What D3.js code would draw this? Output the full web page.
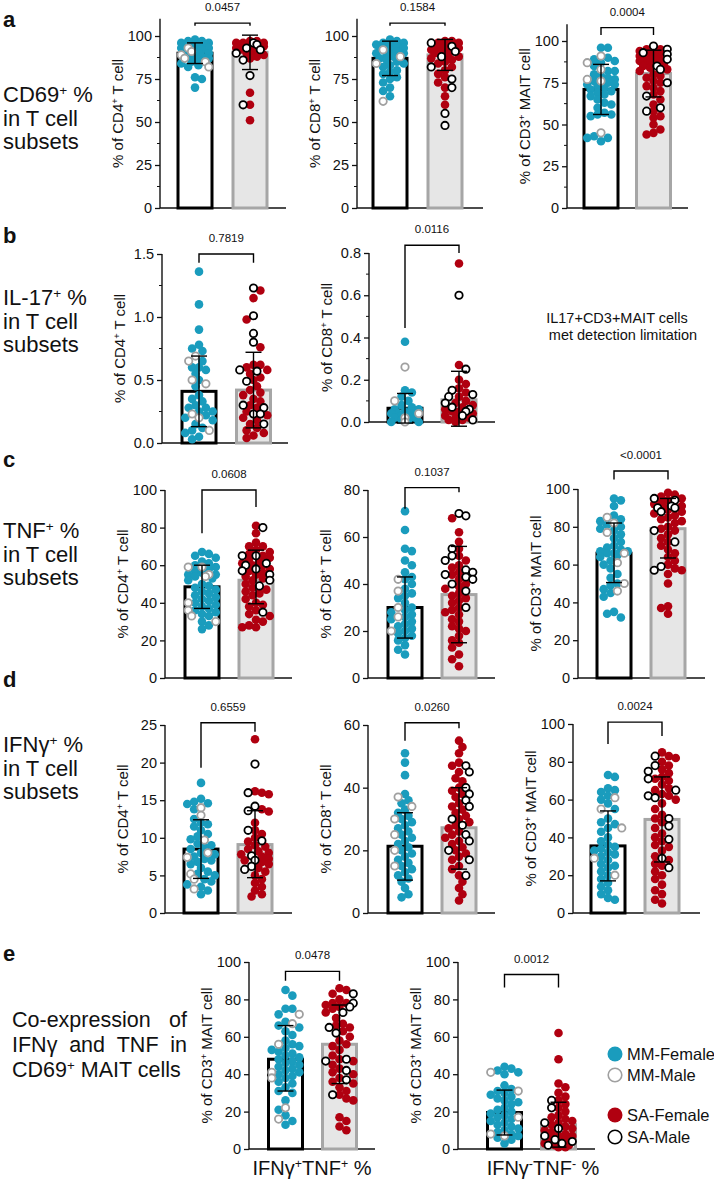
<!DOCTYPE html>
<html><head><meta charset="utf-8">
<script src="https://cdn.jsdelivr.net/npm/d3@7"></script>
<style>
body{margin:0;background:#fff}
text{font-family:Arial,"Liberation Sans",sans-serif;fill:#111}
</style>
</head><body>
<svg id="fig" width="714" height="1180"></svg>
<script>
// ---- values (MM = female/male, SA = female/male) ----
var a1MMF=[98,97,97,96,96,95,95,95,94,94,93,93,92,92,91,90,90,89,88,88,87,86,85,84,83,82,76,75,70];
var a1MMM=[93,91,89,87,85,82];
var a1SAF=[97,97,96,96,96,95,95,95,95,94,94,94,93,93,92,92,91,90,89,88,87,67,60,51];
var a1SAM=[96,95,93,92,90,86,77,60];
var a1Bar=[90,90.5], a1Err=[[84,96],[80.5,100.5]];

var a2MMF=[98,97,96,96,95,95,94,94,93,93,92,91,90,90,89,88,87,86,85,84,83,82,80,79,78,76,75,73,70,68,65];
var a2MMM=[92,88,84,62];
var a2SAF=[97,97,96,96,95,95,95,94,94,93,93,92,92,91,90,89,88,87,86,85,84,82,80,78,76,73,70,65,60];
var a2SAM=[96,94,91,88,82,75,70,55,48];
var a2Bar=[87,89], a2Err=[[77,97],[80,98]];

var a3MMF=[96,96,90,89,88,87,85,82,82,80,79,78,77,76,75,74,74,73,72,71,70,69,68,67,65,63,62,60,57,56,56,55,43,42,42,40];
var a3MMM=[91,87,83,77,76,45];
var a3SAF=[95,95,94,93,93,92,92,91,90,90,89,88,88,87,86,85,84,83,82,80,79,78,76,75,73,72,70,68,65,62,58,55,54,50,47,45,44];
var a3SAM=[97,95,93,92,89,85,83,75,67,60,58];
var a3Bar=[71,80.5], a3Err=[[56,86],[66.5,94.5]];

var b1MMF=[1.36,1.10,0.90,0.78,0.75,0.73,0.65,0.60,0.60,0.58,0.55,0.50,0.45,0.38,0.35,0.33,0.30,0.28,0.28,0.25,0.25,0.22,0.20,0.18,0.15,0.12,0.10,0.08,0.05,0.03];
var b1MMM=[0.69,0.65,0.50,0.47,0.23,0.20,0.10];
var b1SAF=[1.21,1.15,0.98,0.76,0.62,0.62,0.60,0.58,0.55,0.52,0.50,0.45,0.42,0.40,0.38,0.35,0.33,0.30,0.28,0.25,0.22,0.20,0.18,0.15,0.12,0.10,0.08,0.06,0.04];
var b1SAM=[1.23,1.01,0.87,0.80,0.58,0.57,0.49,0.30,0.28,0.23,0.23,0.15];
var b1Bar=[0.41,0.42], b1Err=[[0.13,0.69],[0.12,0.72]];

var b2MMF=[0.38,0.15,0.14,0.12,0.10,0.08,0.07,0.06,0.06,0.05,0.05,0.04,0.04,0.03,0.03,0.02,0.02,0.01,0.01,0.0,0.0];
var b2MMM=[0.26,0.10,0.04,0.02,0.0];
var b2SAF=[0.75,0.27,0.20,0.18,0.16,0.14,0.12,0.10,0.09,0.08,0.07,0.06,0.05,0.05,0.04,0.03,0.02,0.02,0.01,0.01,0.0];
var b2SAM=[0.60,0.25,0.15,0.13,0.12,0.09,0.07,0.06,0.05,0.03,0.01];
var b2Bar=[0.065,0.105], b2Err=[[-0.005,0.135],[-0.02,0.24]];

var c1MMF=[67,66,65,64,62,61,60,59,58,57,56,55,55,54,53,52,50,49,48,47,46,45,44,43,42,41,40,39,38,37,36,35,34,33,30,28,26];
var c1MMM=[59,59,55,54,40,36,33,30];
var c1SAF=[81,77,72,70,70,68,67,66,65,64,63,62,61,60,60,58,57,56,55,54,53,52,50,48,47,46,45,44,42,40,39,38,36,34,33,31,30,28,27,27];
var c1SAM=[80,65,65,61,60,58,57,55,52,49,35];
var c1Bar=[48.5,52], c1Err=[[37,60],[39.5,68]];

var c2MMF=[71,63,55,54,50,48,45,43,42,40,38,36,35,34,32,30,29,28,27,26,25,24,23,22,21,20,19,18,17,16,14,12,10];
var c2MMM=[42,37,30,26,20];
var c2SAF=[68,62,58,55,52,50,48,47,45,44,42,40,39,38,36,35,34,33,32,30,29,28,27,25,24,22,21,20,18,16,15,13,10,8,5];
var c2SAM=[70,69,55,52,50,46,45,44,43,42,40,37,30];
var c2Bar=[30,35.5], c2Err=[[17,43],[15,56]];

var c3MMF=[95,94,91,86,84,83,81,80,79,78,76,74,72,70,69,68,67,67,66,66,65,64,62,60,58,55,53,50,49,47,45,43,35,34,32];
var c3MMM=[85,82,77,66,61,50,46];
var c3SAF=[98,97,96,95,94,93,92,91,90,89,88,87,86,85,84,83,82,80,79,78,76,74,72,70,68,66,64,62,60,58,57,55,50,38,37,34];
var c3SAM=[95,94,91,90,90,88,78,72,59,57];
var c3Bar=[66,79], c3Err=[[50.5,82],[63.5,95]];

var d1MMF=[17.3,15.2,14.8,14.6,14.5,13.8,12.5,12.0,11.8,11.5,11.0,10.5,10.2,9.8,9.2,9.0,8.8,8.5,8.0,7.8,7.5,7.2,7.0,6.8,6.5,6.0,5.5,5.2,5.0,4.5,4.2,3.8,3.5,3.0,2.5];
var d1MMM=[14,13,9.7,8.0,7.4,5.2,4.5,3.2];
var d1SAF=[23.1,16.2,16.0,15.8,13.8,13.5,12.0,11.0,10.5,10.0,9.5,9.0,8.8,8.5,8.2,8.0,7.8,7.5,7.2,7.0,6.8,6.5,6.0,5.5,5.0,4.5,4.0,3.5,3.0,2.5,2.2];
var d1SAM=[19.8,16.0,14.2,13.6,11.0,9.6,7.6,7.0,6.2,5.8];
var d1Bar=[8.5,9.1], d1Err=[[4.6,12.4],[4.7,13.6]];

var d2MMF=[51,48,44,38,36,35,33,32,31,30,29,28,27,26,25,24,23,22,21,20,19,18,17,16,15,14,13,12,11,10,8,6,5];
var d2MMM=[37,34,30,25,20,15];
var d2SAF=[55,53,51,48,47,45,43,42,40,39,38,37,35,34,33,32,31,30,29,28,27,26,25,24,23,22,21,20,19,18,17,15,14,12,10,8,6,4];
var d2SAM=[47,45,40,38,36,34,30,28,25,23,20,17,12];
var d2Bar=[21.3,27.2], d2Err=[[10.5,32],[14,40]];

var d3MMF=[73,72,66,65,64,62,60,58,55,50,48,47,45,43,40,38,36,35,34,33,32,31,30,28,26,25,24,22,20,18,16,14,12,10,8,7];
var d3MMM=[61,55,45,29,20];
var d3SAF=[85,83,82,80,78,76,74,72,71,70,68,66,65,63,62,60,58,55,52,50,48,45,42,40,38,36,35,33,30,28,26,25,22,20,18,15,12,10,7,5];
var d3SAM=[83,78,75,71,65,62,61,50,46,39,29,24];
var d3Bar=[35.5,49.5], d3Err=[[17,54],[27,72]];

var e1MMF=[85,82,75,75,72,68,66,65,63,61,58,56,55,54,53,52,51,50,49,48,47,46,45,44,43,42,41,40,39,38,36,35,33,31,30,26,21,18,15,13];
var e1MMM=[72,67,56,41,38,22,16];
var e1SAF=[86,85,83,80,78,78,77,76,75,73,70,67,66,65,63,60,58,56,55,53,50,48,47,45,43,41,40,38,36,35,33,31,29,27,26,17,15,12,10];
var e1SAM=[83,78,76,73,65,62,48,47,42,37,29];
var e1Bar=[48,56], e1Err=[[31,66],[35,77]];

var e2MMF=[44,43,42,41,40,34,32,31,30,29,28,27,26,25,24,22,21,20,19,18,17,16,15,14,13,12,11,10,9,8,7,6,5,3];
var e2MMM=[41,31,17,8,7];
var e2SAF=[62,48,35,33,30,28,26,24,22,20,18,17,16,15,14,13,12,11,10,9,8,7,7,6,6,5,5,4,4,3,3,2,2,1,1];
var e2SAM=[26,22,14,11,7,5,4,3,2];
var e2Bar=[19.5,13], e2Err=[[7.5,31.5],[1,25]];

var pLabels=["0.0457","0.1584","0.0004","0.7819","0.0116","0.0608","0.1037","<0.0001","0.6559","0.0260","0.0024","0.0478","0.0012"];
var cellTypes=["CD4","CD8","CD3"];
var legendLabels=["MM-Female","MM-Male","SA-Female","SA-Male"];

var teal="#1a9cbd", red="#b00010", grey="#a0a0a0";

// ---- layout of each panel ----
var panels=[
 {mmF:a1MMF,mmM:a1MMM,saF:a1SAF,saM:a1SAM,bar:a1Bar,err:a1Err,ax:160,px:[208,36],cal:100,top:110,ticks:[0,25,50,75,100],minor:12.5,cx:[195,250],xEnd:286,br:[107.5,106,106],cell:0},
 {mmF:a2MMF,mmM:a2MMM,saF:a2SAF,saM:a2SAM,bar:a2Bar,err:a2Err,ax:357,px:[208,36],cal:100,top:110,ticks:[0,25,50,75,100],minor:12.5,cx:[390,445],xEnd:483,br:[107.5,106,106],cell:1},
 {mmF:a3MMF,mmM:a3MMM,saF:a3SAF,saM:a3SAM,bar:a3Bar,err:a3Err,ax:567,px:[208,41],cal:100,top:110,ticks:[0,25,50,75,100],minor:12.5,cx:[601,653.5],xEnd:688,br:[108,103.6,103.6],cell:2},
 {mmF:b1MMF,mmM:b1MMM,saF:b1SAF,saM:b1SAM,bar:b1Bar,err:b1Err,ax:162,px:[443,254],cal:1.5,top:1.5,ticks:[0,0.5,1,1.5],minor:0.25,fmt:".1f",cx:[199,253.5],xEnd:288,br:[1.5,1.43,1.43],cell:0},
 {mmF:b2MMF,mmM:b2MMM,saF:b2SAF,saM:b2SAM,bar:b2Bar,err:b2Err,ax:369,px:[422,253],cal:0.8,top:0.8,ticks:[0,0.2,0.4,0.6,0.8],minor:0.1,fmt:".1f",cx:[405,459],xEnd:495,br:[0.837,0.445,0.80],cell:1},
 {mmF:c1MMF,mmM:c1MMM,saF:c1SAF,saM:c1SAM,bar:c1Bar,err:c1Err,ax:165,px:[678,490],cal:100,top:100,ticks:[0,20,40,60,80,100],cx:[202,256],xEnd:292,br:[100,77,91],cell:0},
 {mmF:c2MMF,mmM:c2MMM,saF:c2SAF,saM:c2SAM,bar:c2Bar,err:c2Err,ax:368,px:[678,490],cal:80,top:80,ticks:[0,20,40,60,80],cx:[405,459],xEnd:495,br:[81,72,79],cell:1},
 {mmF:c3MMF,mmM:c3MMM,saF:c3SAF,saM:c3SAM,bar:c3Bar,err:c3Err,ax:578,px:[678,489],cal:100,top:100,ticks:[0,20,40,60,80,100],cx:[614,668],xEnd:705,br:[109.5,105,105],cell:2},
 {mmF:d1MMF,mmM:d1MMM,saF:d1SAF,saM:d1SAM,bar:d1Bar,err:d1Err,ax:165,px:[913,725],cal:25,top:25,ticks:[0,5,10,15,20,25],cx:[201,255],xEnd:292,br:[25.3,19.3,24.1],cell:0},
 {mmF:d2MMF,mmM:d2MMM,saF:d2SAF,saM:d2SAM,bar:d2Bar,err:d2Err,ax:368,px:[913,725],cal:60,top:60,ticks:[0,20,40,60],cx:[405,459],xEnd:495,br:[60.7,55,59],cell:1},
 {mmF:d3MMF,mmM:d3MMM,saF:d3SAF,saM:d3SAM,bar:d3Bar,err:d3Err,ax:573,px:[913,724],cal:100,top:100,ticks:[0,20,40,60,80,100],cx:[608,662],xEnd:700,br:[101,89.4,93.6],cell:2},
 {mmF:e1MMF,mmM:e1MMM,saF:e1SAF,saM:e1SAM,bar:e1Bar,err:e1Err,ax:249,px:[1149,962],cal:100,top:100,ticks:[0,20,40,60,80,100],cx:[285.5,339.5],xEnd:375,br:[95,90,90],cell:2},
 {mmF:e2MMF,mmM:e2MMM,saF:e2SAF,saM:e2SAM,bar:e2Bar,err:e2Err,ax:458,px:[1149,962],cal:100,top:100,ticks:[0,20,40,60,80,100],cx:[504.5,558.5],xEnd:595,br:[93.3,86.4,86.4],cell:2}
];

var svg=d3.select("#fig");
var R=4.3;

function swarm(pts, cx){
  var placed=[], step=R*0.8, maxOff=16, minD=R*1.55;
  pts.sort(function(a,b){return a.y-b.y;});
  pts.forEach(function(p,i){
    var best=0, bestD=-1, done=false;
    for(var k=0;k*step<=maxOff && !done;k++){
      var offs=k===0?[0]:(i%2?[k*step,-k*step]:[-k*step,k*step]);
      offs.forEach(function(o){
        if(done) return;
        var md=Infinity;
        placed.forEach(function(q){var dd=Math.hypot(q.x-(cx+o),q.y-p.y); if(dd<md) md=dd;});
        if(md>=minD){best=o;done=true;}
        else if(md>bestD){bestD=md;best=o;}
      });
    }
    p.x=cx+best; placed.push(p);
  });
  return pts;
}

function sup(sel, parts, size){
  parts.forEach(function(p){
    var t=sel.append("tspan").text(p[0]);
    if(p[1]) t.attr("font-size",size*0.62).attr("baseline-shift","super");
  });
}

// spread words of a line over a fixed width, like justified text
function justify(words, x0, width, yy, size){
  var els=words.map(function(w){
    return svg.append("text").attr("y",yy).attr("font-size",size).text(w);
  });
  var widths=els.map(function(e){return e.node().getComputedTextLength();});
  var gap=(width-d3.sum(widths))/(words.length-1), x=x0;
  els.forEach(function(e,i){e.attr("x",x); x+=widths[i]+gap;});
}

panels.forEach(function(P,pi){
  var g=svg.append("g");
  var y=d3.scaleLinear().domain([0,P.cal]).range(P.px);
  var x=d3.scaleLinear().domain([0,1]).range(P.cx);
  var bw=34;

  // y axis
  var axis=d3.axisLeft(y).tickValues(P.ticks).tickSize(5).tickPadding(3);
  if(P.fmt) axis.tickFormat(d3.format(P.fmt)); else axis.tickFormat(d3.format("d"));
  var ag=g.append("g").attr("transform","translate("+P.ax+",0)").call(axis);
  ag.select(".domain").remove();
  ag.selectAll(".tick line").attr("stroke","#111").attr("stroke-width",1.3);
  ag.selectAll(".tick text").attr("font-size",14.5).attr("fill","#111").attr("font-family","Arial, Liberation Sans, sans-serif");
  g.append("line").attr("x1",P.ax).attr("x2",P.ax).attr("y1",y(0)).attr("y2",y(P.top)).attr("stroke","#111").attr("stroke-width",1.4);
  if(P.minor){
    var mins=d3.range(P.minor,P.top,P.minor*2);
    g.selectAll(".mn").data(mins).enter().append("line")
      .attr("x1",P.ax-3).attr("x2",P.ax).attr("y1",function(d){return y(d);}).attr("y2",function(d){return y(d);})
      .attr("stroke","#111").attr("stroke-width",1);
  }
  // x axis
  g.append("line").attr("x1",P.ax).attr("x2",P.xEnd).attr("y1",y(0)).attr("y2",y(0)).attr("stroke","#111").attr("stroke-width",1.4);

  // y title
  var tt=g.append("text").attr("transform","translate("+(P.ax-37)+","+((y(0)+y(P.top))/2)+") rotate(-90)")
    .attr("text-anchor","middle").attr("font-size",15);
  var ct=P.cell;
  if(ct===2) sup(tt,[["% of CD3",0],["+",1],[" MAIT cell",0]],15);
  else sup(tt,[["% of "+cellTypes[ct],0],["+",1],[" T cell",0]],15);

  // bars
  [0,1].forEach(function(i){
    g.append("rect").attr("x",x(i)-bw/2).attr("y",y(P.bar[i])).attr("width",bw).attr("height",y(0)-y(P.bar[i]))
      .attr("fill",i?"#e6e6e6":"#fff").attr("stroke",i?"#a6a6a6":"#000").attr("stroke-width",3);
  });

  // dots
  var groups=[
    {f:P.mmF,m:P.mmM,fc:teal,mc:grey},
    {f:P.saF,m:P.saM,fc:red,mc:"#000"}
  ];
  groups.forEach(function(G,i){
    var pts=G.f.map(function(v){return {v:v,y:y(v),male:false,c:G.fc};})
      .concat(G.m.map(function(v){return {v:v,y:y(v),male:true,c:G.mc};}));
    swarm(pts,x(i));
    pts.sort(function(a,b){return a.male-b.male;});
    g.selectAll(".d"+i).data(pts).enter().append("circle")
      .attr("cx",function(d){return d.x;}).attr("cy",function(d){return d.y;}).attr("r",function(d){return d.male?R-0.6:R;})
      .attr("fill",function(d){return d.male?"#fff":d.c;})
      .attr("stroke",function(d){return d.male?d.c:"none";})
      .attr("stroke-width",1.8);
  });

  // error bars
  [0,1].forEach(function(i){
    var e=P.err[i], cx=x(i);
    g.append("line").attr("x1",cx).attr("x2",cx).attr("y1",y(e[0])).attr("y2",y(e[1])).attr("stroke","#000").attr("stroke-width",1.4);
    e.forEach(function(v){
      g.append("line").attr("x1",cx-8).attr("x2",cx+8).attr("y1",y(v)).attr("y2",y(v)).attr("stroke","#000").attr("stroke-width",1.4);
    });
  });

  // significance bracket
  var by=y(P.br[0]);
  g.append("path").attr("d","M"+x(0)+","+y(P.br[1])+"V"+by+"H"+x(1)+"V"+y(P.br[2]))
    .attr("fill","none").attr("stroke","#000").attr("stroke-width",1.4);
  g.append("text").attr("x",(x(0)+x(1))/2).attr("y",by-12).attr("text-anchor","middle").attr("font-size",11.5).text(pLabels[pi]);
});

// ---- row labels ----
var letters=[["a",27],["b",243],["c",467],["d",687],["e",961]];
svg.selectAll(".lt").data(letters).enter().append("text")
  .attr("x",3).attr("y",function(d){return d[1];}).attr("font-size",22).attr("font-weight","bold").text(function(d){return d[0];});

var rowLab=[["CD69",102],["IL-17",305],["TNF",538],["IFNγ",752]];
rowLab.forEach(function(r){
  var t=svg.append("text").attr("x",3).attr("y",r[1]).attr("font-size",22);
  sup(t,[[r[0],0],["+",1],[" %",0]],22);
  svg.append("text").attr("x",3).attr("y",r[1]+23.5).attr("font-size",22).text("in T cell");
  svg.append("text").attr("x",3).attr("y",r[1]+47).attr("font-size",22).text("subsets");
});

justify(["Co-expression","of"],12,175,1027,21.5);
justify(["IFNγ","and","TNF","in"],12,175,1052,21.5);
var t3=svg.append("text").attr("x",12).attr("y",1077).attr("font-size",21.5);
sup(t3,[["CD69",0],["+",1],[" MAIT cells",0]],21.5);

// IL17 note
svg.append("text").attr("x",617).attr("y",323).attr("text-anchor","middle").attr("font-size",14.5).text("IL17+CD3+MAIT cells");
svg.append("text").attr("x",623).attr("y",340).attr("text-anchor","middle").attr("font-size",14.5).text("met detection limitation");

// bottom labels of e
var bl1=svg.append("text").attr("x",312).attr("y",1175).attr("text-anchor","middle").attr("font-size",20);
sup(bl1,[["IFNγ",0],["+",1],["TNF",0],["+",1],[" %",0]],20);
var bl2=svg.append("text").attr("x",543).attr("y",1175).attr("text-anchor","middle").attr("font-size",20);
sup(bl2,[["IFNγ",0],["-",1],["TNF",0],["-",1],[" %",0]],20);

// legend
var legY=[1054,1075,1115,1137];
var legStyle=[[teal,"none"],["#fff",grey],[red,"none"],["#fff","#000"]];
legendLabels.forEach(function(l,i){
  svg.append("circle").attr("cx",615).attr("cy",legY[i]).attr("r",legStyle[i][1]==="none"?7.5:6.8)
    .attr("fill",legStyle[i][0]).attr("stroke",legStyle[i][1]).attr("stroke-width",1.6);
  svg.append("text").attr("x",627).attr("y",legY[i]+6).attr("font-size",16.5).text(l);
});
</script>
</body></html>
